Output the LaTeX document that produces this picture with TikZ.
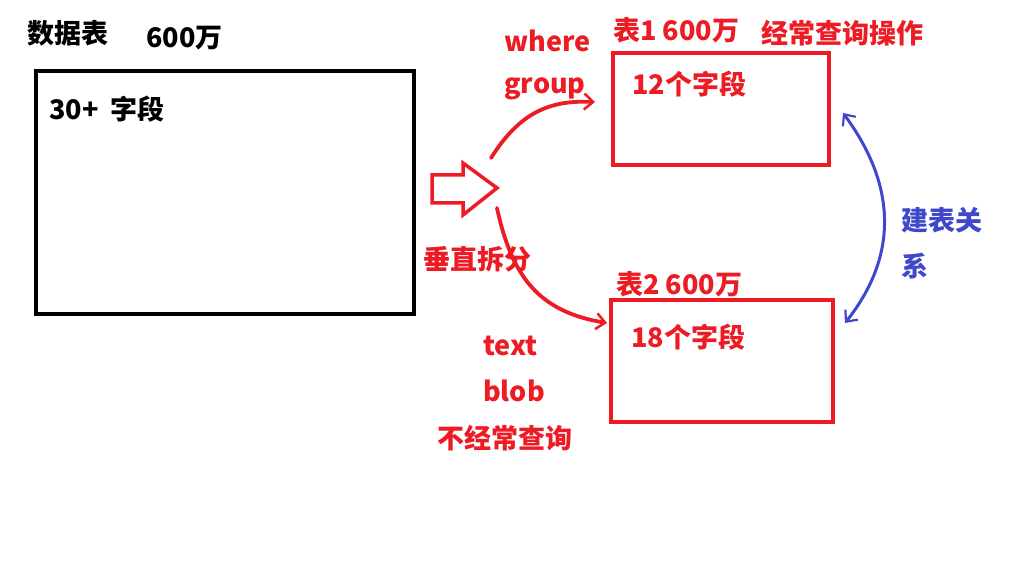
\documentclass[tikz,border=0pt]{standalone}
\usepackage{fontspec}
\setmainfont{Noto Sans CJK SC}
\usetikzlibrary{arrows.meta}
\definecolor{pred}{HTML}{ED1C24}
\definecolor{pblue}{HTML}{3F48CC}
\tikzset{
  lbl/.style={anchor=west, inner sep=0pt, font=\fontsize{27}{32}\selectfont\bfseries},
  redlbl/.style={lbl, text=pred},
  bluelbl/.style={lbl, text=pblue},
  tablebox/.style={draw, line width=4pt, anchor=north west, inner sep=0pt},
  handarrow/.style={line width=3.8pt, line cap=round, -{Straight Barb[length=9pt,width=16pt,line width=2.5pt]}},
}
\begin{document}
\begin{tikzpicture}[x=1pt,y=-1pt]
\useasboundingbox[fill=white] (0,0) rectangle (1018,577);
% left table
\node[lbl] (t0) at (27,33) {数据表};
\node[lbl] (t0n) at (146,38) {600万};
\node[tablebox, minimum width=378pt, minimum height=243pt] (big) at (34,69) {};
\node[lbl] (f0) at (49,109) {30+\hspace{0.45em}字段};
% hollow arrow
\draw[pred, line width=3.5pt, line join=miter] (432,175) -- (463,175) -- (463,163) -- (497,188)
   -- (463,215) -- (463,203) -- (432,203) -- cycle;
\coordinate (s1) at (491,158);
\coordinate (e1) at (595,102);
\coordinate (s2) at (497,208);
\coordinate (e2) at (607,323);
% table 1
\node[tablebox, draw=pred, minimum width=216pt, minimum height=112pt] (tb1) at (611,51) {};
\node[redlbl] (t1) at (613,30) {表1 600万};
\node[redlbl] (op1) at (761,33) {经常查询操作};
\node[redlbl] (f1) at (632,84) {12个字段};
\node[redlbl] (w) at (504,41) {where};
\node[redlbl] (g) at (504,89) {group};
% table 2
\node[tablebox, draw=pred, minimum width=222pt, minimum height=122pt] (tb2) at (609,298) {};
\node[redlbl] (t2) at (616,284) {表2 600万};
\node[redlbl] (f2) at (631,337) {18个字段};
\node[redlbl] (vs) at (423,259) {垂直拆分};
\node[redlbl] (tx) at (483,346) {text};
\node[redlbl] (bl) at (483,391) {blob};
\node[redlbl] (nq) at (437,438) {不经常查询};
% curved arrows
\draw[pred, handarrow] (s1) .. controls (520,112) and (550,100) .. (e1);
\draw[pred, handarrow] (s2) .. controls (512,278) and (540,312) .. (e2);
% relation
\coordinate (b1) at (843,113);
\coordinate (b2) at (845,323);
\draw[pblue, line width=3pt, line cap=round,
  {Straight Barb[length=9pt,width=16pt,line width=2.2pt]}-{Straight Barb[length=9pt,width=16pt,line width=2.2pt]}]
  (b1) .. controls (900,190) and (895,260) .. (b2);
\node[bluelbl] (r1) at (901,220) {建表关};
\node[bluelbl] (r2) at (901,266) {系};
\end{tikzpicture}
\end{document}
